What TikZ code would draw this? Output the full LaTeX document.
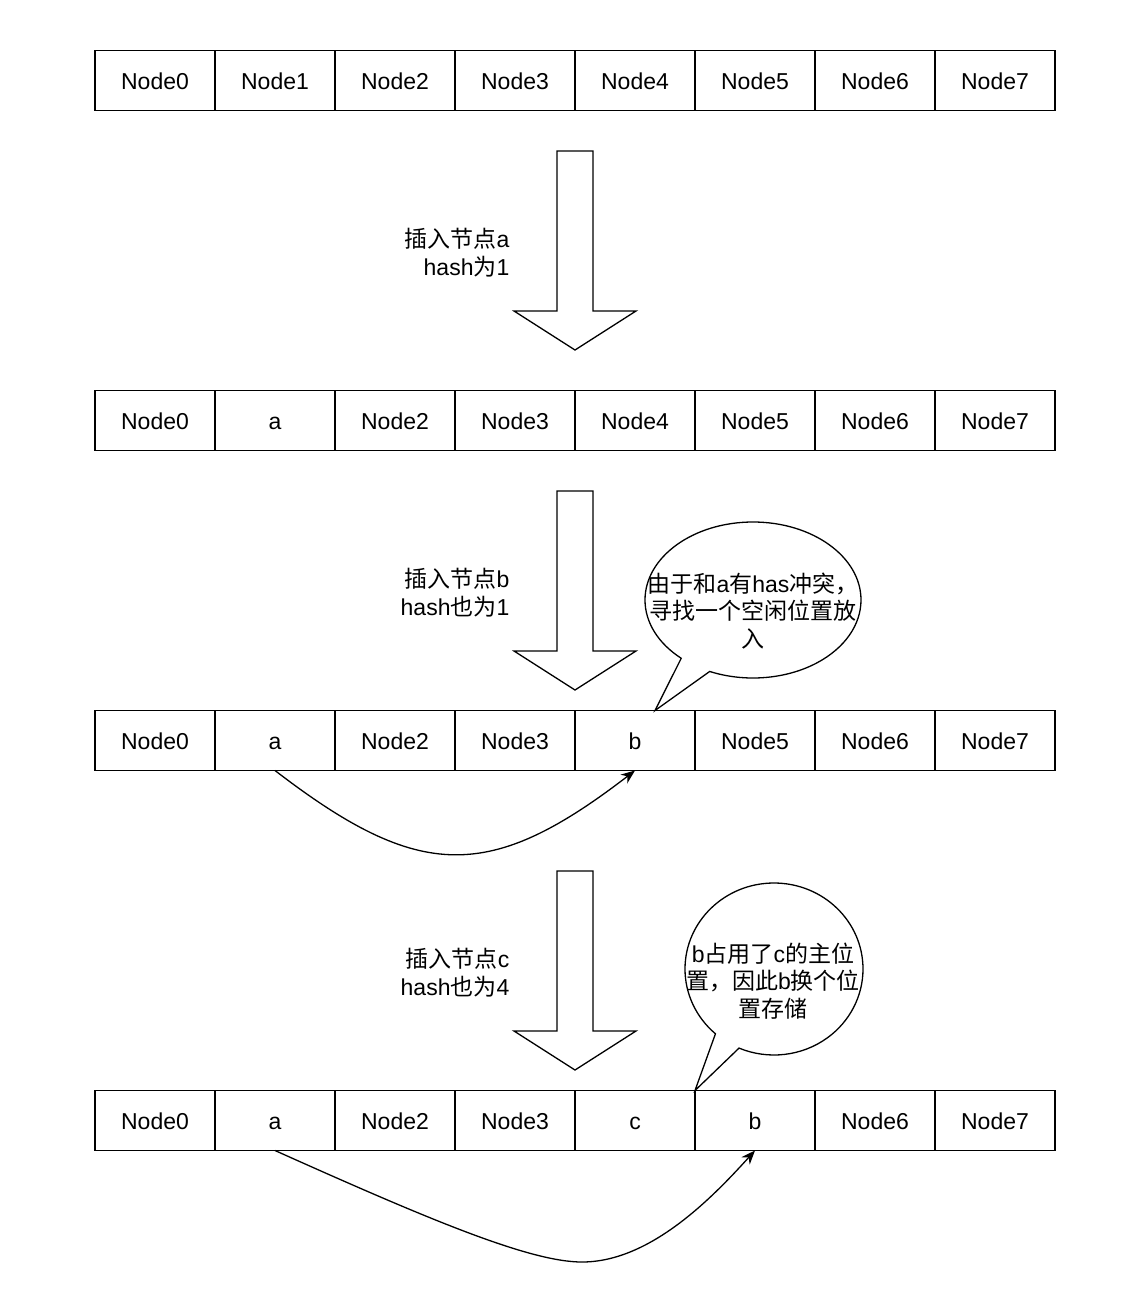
\documentclass[tikz,border=0pt]{standalone}
\usepackage{fontspec}
\setmainfont{Liberation Sans}
\newfontfamily\cjk{Noto Sans CJK SC}
\usetikzlibrary{arrows.meta,positioning,shapes.geometric,shapes.callouts}
\newcommand{\zh}[1]{{\cjk #1}}

\begin{document}
\begin{tikzpicture}[x=1pt,y=-1pt,line width=1.3pt,
 font=\fontsize{23}{28}\selectfont,
 cellbox/.style={draw,minimum width=120pt,minimum height=60pt,inner sep=0pt,outer sep=0pt,text height=18pt,text depth=0pt},
 blockarrow/.style={draw,fill=white,line join=miter},
 insertlabel/.style={anchor=east,align=right,inner sep=0pt},
 bubble/.style={draw,ellipse callout,fill=white,callout pointer arc=18,inner sep=0pt},
 bubbletext/.style={align=center,inner sep=0pt,font=\fontsize{23}{27.5}\selectfont},
 moveline/.style={-{Stealth[length=14pt,width=11pt]},line width=1.3pt}
]
\useasboundingbox (0,0) rectangle (1136,1304);
% four states of the table
\foreach \t [count=\i from 0] in {Node0,Node1,Node2,Node3,Node4,Node5,Node6,Node7}
  \node[cellbox] (r1c\i) at (155+120*\i,80.5) {\t};
\foreach \t [count=\i from 0] in {Node0,a,Node2,Node3,Node4,Node5,Node6,Node7}
  \node[cellbox] (r2c\i) at (155+120*\i,420.5) {\t};
\foreach \t [count=\i from 0] in {Node0,a,Node2,Node3,b,Node5,Node6,Node7}
  \node[cellbox] (r3c\i) at (155+120*\i,740.5) {\t};
\foreach \t [count=\i from 0] in {Node0,a,Node2,Node3,c,b,Node6,Node7}
  \node[cellbox] (r4c\i) at (155+120*\i,1120.5) {\t};
% big arrows between states
\foreach \y in {151,491,871}
  \draw[blockarrow] (557,\y) -- (593,\y) -- (593,\y+160) -- (636,\y+160)
    -- (575,\y+199) -- (514,\y+160) -- (557,\y+160) -- cycle;
\node[insertlabel] (stepa) at (510,252.5) {\zh{插入节点}a\\hash\zh{为}1};
\node[insertlabel] (stepb) at (510,592.5) {\zh{插入节点}b\\hash\zh{也为}1};
\node[insertlabel] (stepc) at (510,972.5) {\zh{插入节点}c\\hash\zh{也为}4};
% notes
\coordinate (tip1) at ([xshift=20pt]r3c4.north);
\coordinate (tip2) at (r4c4.north east);
\node[bubble,minimum width=216pt,minimum height=156pt,callout absolute pointer=(tip1)] (note1) at (753,600) {};
\node[bubbletext] (note1txt) at (753,611) {\zh{由于和}a\zh{有}has\zh{冲突，}\\\zh{寻找一个空闲位置放}\\\zh{入}};
\node[bubble,minimum width=178pt,minimum height=172pt,callout absolute pointer=(tip2)] (note2) at (774,969) {};
\node[bubbletext] (note2txt) at (773,981) {b\zh{占用了}c\zh{的主位}\\\zh{置，因此}b\zh{换个位}\\\zh{置存储}};
% moves
\draw[moveline] (r3c1.south) .. controls (420,882) and (490,882) .. (r3c4.south);
\draw[moveline] (r4c1.south) .. controls (430,1220) and (530,1262) .. (582,1262)
  .. controls (650,1262) and (712,1198) .. (r4c5.south);
\end{tikzpicture}
\end{document}
